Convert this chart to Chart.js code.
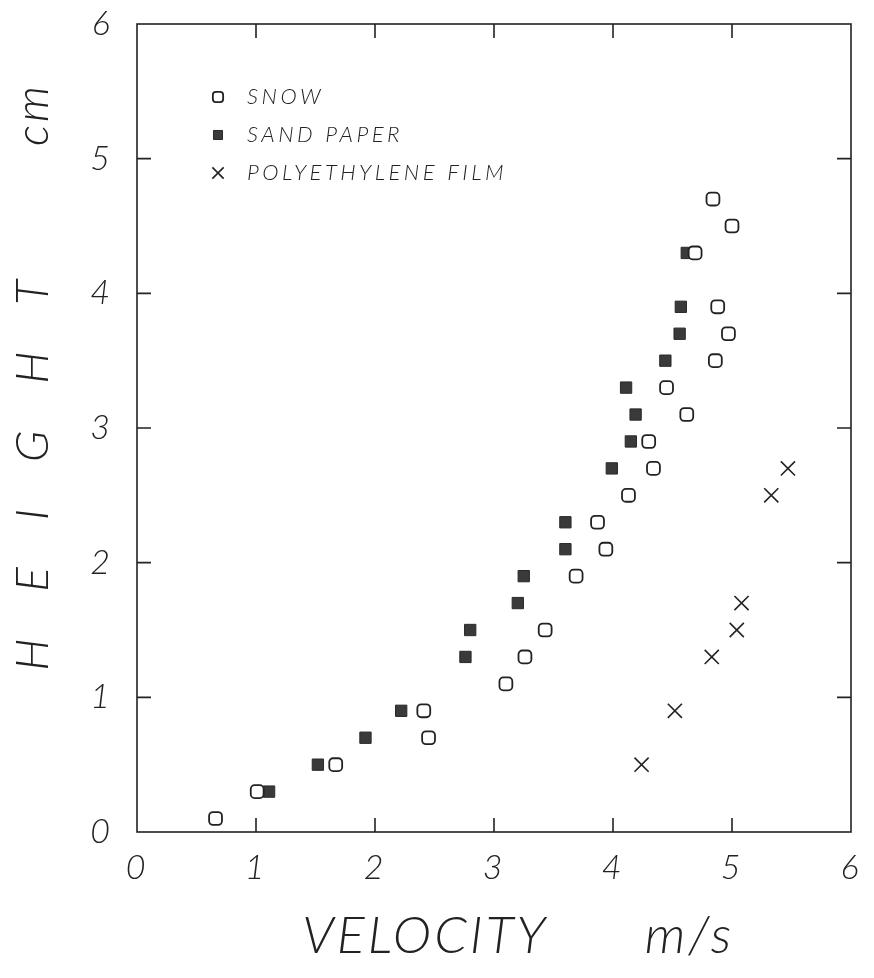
<!DOCTYPE html>
<html>
<head>
<meta charset="utf-8">
<script src="https://cdn.jsdelivr.net/npm/chart.js@4"></script>
<style>
  body { margin: 0; background: #fff; }
</style>
</head>
<body>
<canvas id="heightChart" width="874" height="978"></canvas>
<script>
// values (velocity m/s, height cm)
var snowX = [0.66, 1.01, 1.67, 2.45, 2.41, 3.10, 3.26, 3.43, 3.69, 3.94, 3.87, 4.13, 4.34, 4.30, 4.62, 4.45, 4.86, 4.97, 4.88, 4.69, 5.00, 4.84];
var snowY = [0.1, 0.3, 0.5, 0.7, 0.9, 1.1, 1.3, 1.5, 1.9, 2.1, 2.3, 2.5, 2.7, 2.9, 3.1, 3.3, 3.5, 3.7, 3.9, 4.3, 4.5, 4.7];
var sandX = [1.11, 1.52, 1.92, 2.22, 2.76, 2.80, 3.20, 3.25, 3.60, 3.60, 3.99, 4.15, 4.19, 4.11, 4.44, 4.56, 4.57, 4.62];
var sandY = [0.3, 0.5, 0.7, 0.9, 1.3, 1.5, 1.7, 1.9, 2.1, 2.3, 2.7, 2.9, 3.1, 3.3, 3.5, 3.7, 3.9, 4.3];
var polyX = [4.24, 4.52, 4.83, 5.04, 5.08, 5.33, 5.47];
var polyY = [0.5, 0.9, 1.3, 1.5, 1.7, 2.5, 2.7];
var seriesNames = ['SNOW', 'SAND PAPER', 'POLYETHYLENE FILM'];
var xTicks = [0, 1, 2, 3, 4, 5, 6];
var yTicks = [0, 1, 2, 3, 4, 5, 6];

var ink = '#222';
var plotFont = "Lato, 'DejaVu Sans', sans-serif";

function pairs(xs, ys) {
    return xs.map(function (v, i) { return { x: v, y: ys[i] }; });
}

// plotter lettering is widely spaced
var spacing = {
    id: 'spacing',
    beforeDraw: function (chart) { chart.ctx.letterSpacing = '3px'; }
};

// frame box with inward tick marks on all four sides
var frameTicks = {
    id: 'frameTicks',
    afterDraw: function (chart) {
        var ctx = chart.ctx, a = chart.chartArea;
        var xs = chart.scales.x, ys = chart.scales.y;
        var len = 14;
        ctx.save();
        ctx.strokeStyle = ink;
        ctx.lineWidth = 1.6;
        ctx.strokeRect(a.left, a.top, a.right - a.left, a.bottom - a.top);
        ctx.beginPath();
        xTicks.slice(1, -1).forEach(function (t) {
            var px = xs.getPixelForValue(t);
            ctx.moveTo(px, a.bottom); ctx.lineTo(px, a.bottom - len);
            ctx.moveTo(px, a.top); ctx.lineTo(px, a.top + len);
        });
        yTicks.slice(1, -1).forEach(function (t) {
            var py = ys.getPixelForValue(t);
            ctx.moveTo(a.left, py); ctx.lineTo(a.left + len, py);
            ctx.moveTo(a.right, py); ctx.lineTo(a.right - len, py);
        });
        ctx.stroke();
        ctx.restore();
    }
};

// legend drawn inside the plot, upper left
var innerLegend = {
    id: 'innerLegend',
    afterDraw: function (chart) {
        var ctx = chart.ctx, a = chart.chartArea;
        ctx.save();
        ctx.font = 'italic 300 22px ' + plotFont;
        ctx.letterSpacing = '3.5px';
        ctx.textBaseline = 'middle';
        chart.data.datasets.forEach(function (ds, i) {
            var y = a.top + 73 + i * 38;
            ctx.fillStyle = ds.backgroundColor;
            ctx.strokeStyle = ds.borderColor;
            ctx.lineWidth = ds.borderWidth;
            Chart.helpers.drawPoint(ctx, { pointStyle: ds.pointStyle, radius: ds.pointRadius * 0.8, rotation: 0, borderWidth: ds.borderWidth }, a.left + 81, y);
            ctx.fillStyle = ink;
            ctx.fillText(ds.label, a.left + 110, y);
        });
        ctx.restore();
    }
};

var ctx = document.getElementById('heightChart').getContext('2d');
var heightChart = new Chart(ctx, {
    type: 'scatter',
    data: {
        datasets: [{
            label: seriesNames[0],
            data: pairs(snowX, snowY),
            pointStyle: 'rectRounded',
            pointRadius: 7.5,
            backgroundColor: '#fff',
            borderColor: ink,
            borderWidth: 1.8
        }, {
            label: seriesNames[1],
            data: pairs(sandX, sandY),
            pointStyle: 'rect',
            pointRadius: 8,
            backgroundColor: '#3a3a3a',
            borderColor: '#2a2a2a',
            borderWidth: 1
        }, {
            label: seriesNames[2],
            data: pairs(polyX, polyY),
            pointStyle: 'crossRot',
            pointRadius: 10,
            backgroundColor: ink,
            borderColor: ink,
            borderWidth: 1.6
        }]
    },
    options: {
        responsive: false,
        animation: false,
        layout: {
            padding: { top: 24, right: 23, left: 0, bottom: 0 }
        },
        scales: {
            x: {
                type: 'linear',
                min: 0,
                max: 6,
                afterFit: function (scale) {
                    scale.height = 146;
                    scale.paddingLeft = 0;
                    scale.paddingRight = 0;
                },
                afterBuildTicks: function (scale) {
                    scale.ticks = xTicks.map(function (v) { return { value: v }; });
                },
                grid: { display: false, drawTicks: false },
                border: { display: false },
                ticks: {
                    color: ink,
                    padding: 19,
                    maxRotation: 0,
                    font: { family: plotFont, size: 34, style: 'italic', weight: 300, lineHeight: 1 }
                },
                title: {
                    display: true,
                    text: '   VELOCITY      m/s',
                    color: ink,
                    padding: { top: 0, bottom: 16 },
                    font: { family: plotFont, size: 52, style: 'italic', weight: 300, lineHeight: 1 }
                }
            },
            y: {
                type: 'linear',
                min: 0,
                max: 6,
                afterFit: function (scale) {
                    scale.width = 137;
                    scale.paddingTop = 0;
                    scale.paddingBottom = 0;
                },
                afterBuildTicks: function (scale) {
                    scale.ticks = yTicks.map(function (v) { return { value: v }; });
                },
                grid: { display: false, drawTicks: false },
                border: { display: false },
                ticks: {
                    color: ink,
                    padding: 24,
                    font: { family: plotFont, size: 34, style: 'italic', weight: 300, lineHeight: 1 }
                },
                title: {
                    display: true,
                    text: '       H   E   I   G   H   T         cm',
                    color: ink,
                    padding: { top: 10, bottom: 0 },
                    font: { family: plotFont, size: 46, style: 'italic', weight: 300, lineHeight: 1 }
                }
            }
        },
        plugins: {
            legend: { display: false },
            tooltip: { enabled: false }
        }
    },
    plugins: [spacing, frameTicks, innerLegend]
});
</script>
</body>
</html>
